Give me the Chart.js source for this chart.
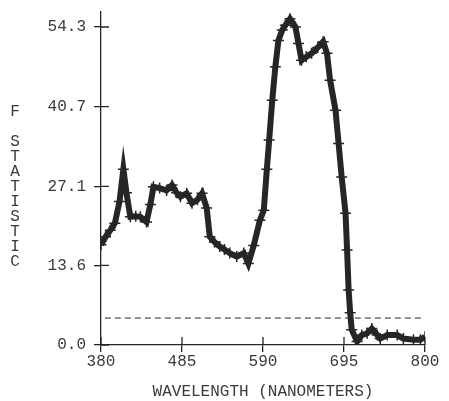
<!DOCTYPE html>
<html>
<head>
<meta charset="utf-8">
<script src="https://cdn.jsdelivr.net/npm/chart.js@4.4.1/dist/chart.umd.min.js"></script>
<style>
    html, body { margin: 0; padding: 0; background: #ffffff; }
    #wrap { width: 449px; height: 401px; }
</style>
</head>
<body>
<div id="wrap"><canvas id="chart" width="449" height="401"></canvas></div>
<script>
// values
const wavelength = [380, 386, 392, 398, 404, 409, 413, 418, 425, 431, 439, 444, 448, 456, 465, 472, 478, 483, 491, 498,
    505, 511, 517, 521, 527, 534, 540, 547, 556, 565, 571, 578, 586, 591, 595, 598, 602, 606, 610, 615,
    619, 625, 632, 636, 640, 646, 653, 661, 668, 673, 677, 684, 688, 692, 697, 699, 701, 703, 705, 712,
    718, 725, 731, 738, 742, 751, 764, 772, 785, 794, 800];
const fStat = [17.1, 18.5, 19.6, 20.8, 24.5, 30.0, 26.0, 21.9, 22.0, 21.9, 21.0, 24.0, 27.0, 26.8, 26.4, 27.3, 26.0, 25.3, 25.9, 24.2,
    24.8, 25.9, 23.4, 18.5, 17.6, 16.8, 16.3, 15.7, 15.1, 15.7, 13.9, 17.0, 21.3, 23.0, 30.0, 35.0, 41.8, 47.5, 52.0, 53.8,
    54.6, 55.7, 54.3, 51.5, 48.6, 49.2, 49.8, 50.8, 51.8, 49.8, 45.2, 40.1, 34.4, 28.7, 22.5, 16.2, 9.4, 5.5, 2.6, 0.6,
    1.7, 2.0, 2.8, 1.7, 1.1, 1.7, 1.7, 1.1, 0.9, 0.9, 1.4];
const xTicks = [380, 485, 590, 695, 800];
const yTicks = [0.0, 13.6, 27.1, 40.7, 54.3];
const critical = 4.6;
const yTitle = ['F', '', 'S', 'T', 'A', 'T', 'I', 'S', 'T', 'I', 'C'];
const xTitle = 'WAVELENGTH (NANOMETERS)';

const ink = '#262626';
const textInk = '#3a3a3a';
const font = { family: '"Liberation Mono", "DejaVu Sans Mono", monospace', size: 16 };

// letters of the y title are stacked, one per line
const stackedTitle = {
    id: 'stackedTitle',
    afterDraw(chart) {
        const ctx = chart.ctx;
        ctx.save();
        ctx.font = `${font.size}px ${font.family}`;
        ctx.fillStyle = textInk;
        ctx.textAlign = 'center';
        ctx.textBaseline = 'middle';
        yTitle.forEach((ch, i) => ctx.fillText(ch, 15, 112 + i * 15));
        ctx.restore();
    }
};

// tick marks cross the axis, draw the inner half
const innerTicks = {
    id: 'innerTicks',
    afterDraw(chart) {
        const ctx = chart.ctx;
        const x = chart.scales.x;
        const y = chart.scales.y;
        ctx.save();
        ctx.strokeStyle = ink;
        ctx.lineWidth = 1.3;
        ctx.beginPath();
        xTicks.forEach(v => {
            const px = x.getPixelForValue(v);
            ctx.moveTo(px, y.bottom);
            ctx.lineTo(px, y.bottom - 8);
        });
        yTicks.forEach(v => {
            const py = y.getPixelForValue(v);
            ctx.moveTo(x.left, py);
            ctx.lineTo(x.left + 8, py);
        });
        ctx.stroke();
        ctx.restore();
    }
};

new Chart(document.getElementById('chart'), {
    type: 'line',
    data: {
        datasets: [
            {
                data: wavelength.map((w, i) => ({ x: w, y: fStat[i] })),
                borderColor: ink,
                borderWidth: 6,
                pointStyle: 'cross',
                pointRadius: 5.5,
                pointBorderWidth: 1.5,
                pointBorderColor: ink,
                tension: 0
            },
            {
                data: [{ x: 372, y: critical }, { x: 798, y: critical }],
                borderColor: ink,
                borderWidth: 1,
                borderDash: [6, 4],
                pointRadius: 0
            }
        ]
    },
    plugins: [stackedTitle, innerTicks],
    options: {
        responsive: false,
        animation: false,
        layout: { padding: { top: 12, right: 24, bottom: 0, left: 0 } },
        plugins: {
            legend: { display: false },
            tooltip: { enabled: false }
        },
        scales: {
            x: {
                type: 'linear',
                min: 380,
                max: 800,
                afterBuildTicks: s => { s.ticks = xTicks.map(v => ({ value: v })); },
                afterFit: s => { s.height = 56; },
                ticks: { font, color: textInk, padding: 0, maxRotation: 0 },
                grid: { drawOnChartArea: false, tickLength: 7, color: ink, lineWidth: 1.3 },
                border: { color: ink, width: 1.3 },
                title: { display: true, text: xTitle, font, color: textInk, padding: { top: 2, bottom: 0 } }
            },
            y: {
                min: 0,
                max: 56.86,
                afterBuildTicks: s => { s.ticks = yTicks.map(v => ({ value: v })); },
                afterFit: s => { s.width = 101; s.paddingTop = 0; s.paddingBottom = 0; },
                ticks: { font, color: textInk, padding: 8, callback: v => v.toFixed(1) },
                grid: { drawOnChartArea: false, tickLength: 7, color: ink, lineWidth: 1.3 },
                border: { color: ink, width: 1.3 }
            }
        }
    }
});
</script>
</body>
</html>
